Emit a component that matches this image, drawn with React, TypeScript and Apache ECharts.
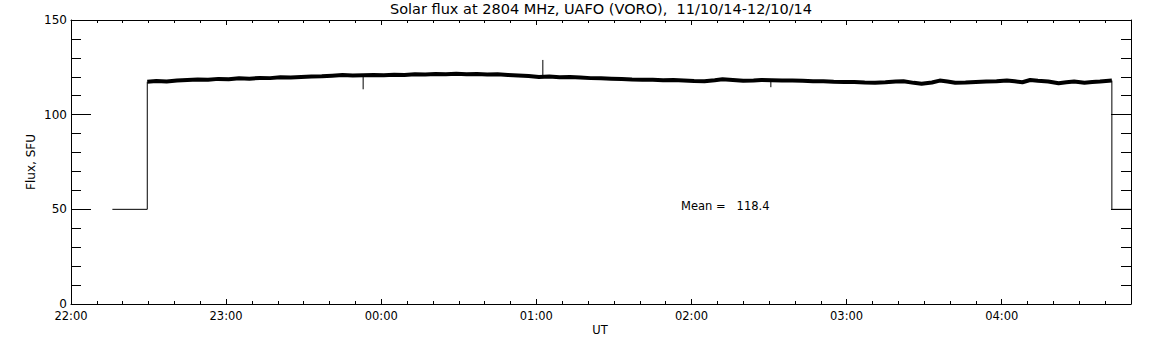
import React, { useEffect, useRef } from "react";
import * as echarts from "echarts";

// minutes after 22:00 UT
const bandTimes = [
  29.5, 33, 37, 41, 45, 49, 53, 57, 61, 65, 69, 73, 77, 81, 85, 89, 93, 97, 101, 105,
  109, 113, 117, 121, 125, 129, 133, 137, 141, 145, 149, 153, 157, 161, 165, 169, 173, 177, 181, 185,
  189, 193, 197, 201, 205, 209, 213, 217, 221, 225, 229, 233, 237, 241, 245, 249, 252, 256, 260, 264,
  267, 271, 275, 279, 283, 287, 291, 295, 299, 303, 307, 311, 315, 319, 322, 326, 329, 333, 336, 339,
  342, 346, 350, 354, 358, 362, 365, 368, 371, 374, 378, 382, 385, 388, 392, 395, 398, 402.6,
];
const bandFlux = [
  117.4, 117.8, 117.5, 118.0, 118.3, 118.6, 118.4, 118.9, 118.7, 119.2, 119.0, 119.4, 119.3, 119.8, 119.6, 119.9, 120.1, 120.3, 120.6, 120.9,
  120.7, 120.8, 120.9, 120.8, 121.1, 121.0, 121.3, 121.2, 121.5, 121.4, 121.6, 121.3, 121.5, 121.2, 121.3, 121.0, 120.7, 120.4, 119.9, 120.2,
  119.8, 119.9, 119.6, 119.3, 119.2, 119.0, 118.8, 118.6, 118.5, 118.4, 118.2, 118.3, 118.1, 117.8, 117.6, 118.2, 118.7, 118.3, 117.9, 118.1,
  118.3, 118.2, 118.0, 118.0, 117.9, 117.7, 117.6, 117.4, 117.3, 117.2, 117.0, 116.9, 117.1, 117.5, 117.6, 116.8, 116.3, 117.0, 118.0, 117.5,
  116.9, 117.0, 117.3, 117.5, 117.6, 118.0, 117.6, 117.1, 118.3, 117.9, 117.5, 116.6, 117.1, 117.5, 116.9, 117.2, 117.5, 118.0,
];

const startTimes = [16, 29.5, 29.5];
const startFlux = [50, 50, 117.4];
const endTimes = [402.6, 402.6, 410];
const endFlux = [118.0, 50, 50];

const spikeTimes = [113, 182.5, 270.7];
const spikeBase = [120.8, 119.9, 118.2];
const spikeTip = [113.4, 128.9, 114.5];

const xMin = 0;
const xMax = 410;
const yMin = 0;
const yMax = 150;
const startHour = 22;

const titleText = "Solar flux at 2804 MHz, UAFO (VORO),  11/10/14-12/10/14";
const xName = "UT";
const yName = "Flux, SFU";
const meanText = "Mean =   118.4";

const FONT = "DejaVu Sans";

function fmtTime(v: number): string {
  if (Math.abs(v % 60) > 1e-6) return "";
  const h = (startHour + Math.round(v / 60)) % 24;
  return (h < 10 ? "0" : "") + h + ":00";
}

function pairs(xs: number[], ys: number[]) {
  return xs.map((x, i) => [x, ys[i]]);
}

export default function App() {
  const ref = useRef<HTMLDivElement>(null);
  useEffect(() => {
    if (!ref.current) return;
    const chart = echarts.init(ref.current, undefined, { renderer: "svg" });
    const black = "#000";
    const xAxisBase = (position: "top" | "bottom", interval: number, len: number, labels: boolean, line: boolean) => ({
      type: "value",
      position,
      min: xMin,
      max: xMax,
      interval,
      axisLine: { show: line, onZero: false, lineStyle: { color: black, width: 1 } },
      axisTick: { show: true, inside: true, length: len, lineStyle: { color: black, width: 1 } },
      axisLabel: {
        show: labels,
        formatter: fmtTime,
        color: black,
        fontFamily: FONT,
        fontSize: 11.5,
        margin: 6,
        showMinLabel: true,
        showMaxLabel: false,
      },
      splitLine: { show: false },
    });
    const yAxisBase = (position: "left" | "right", labels: boolean) => ({
      type: "value",
      position,
      min: yMin,
      max: yMax,
      interval: 50,
      axisLine: { show: true, onZero: false, lineStyle: { color: black, width: 1 } },
      axisTick: { show: true, inside: true, length: 20, lineStyle: { color: black, width: 1 } },
      minorTick: { show: true, splitNumber: 5, length: 10, lineStyle: { color: black, width: 1 } },
      axisLabel: { show: labels, color: black, fontFamily: FONT, fontSize: 12, margin: 4 },
      splitLine: { show: false },
      minorSplitLine: { show: false },
    });
    const thin = (name: string, data: number[][]) => ({
      type: "line",
      name,
      data,
      xAxisIndex: 0,
      yAxisIndex: 0,
      showSymbol: false,
      symbol: "none",
      lineStyle: { color: black, width: 1 },
      silent: true,
    });
    const spikes = spikeTimes.map((t, i) =>
      thin("spike" + i, [
        [t, spikeBase[i]],
        [t, spikeTip[i]],
      ])
    );
    chart.setOption({
      animation: false,
      backgroundColor: "#fff",
      grid: { left: 71, right: 21, top: 20, bottom: 41, containLabel: false, outerBoundsMode: "none" },
      xAxis: [
        xAxisBase("bottom", 60, 5, true, true),
        xAxisBase("bottom", 10, 3, false, false),
        xAxisBase("top", 60, 5, false, true),
        xAxisBase("top", 10, 3, false, false),
      ],
      yAxis: [yAxisBase("left", true), yAxisBase("right", false)],
      series: [
        {
          type: "line",
          name: "flux",
          data: pairs(bandTimes, bandFlux),
          xAxisIndex: 0,
          yAxisIndex: 0,
          showSymbol: false,
          symbol: "none",
          lineStyle: { color: black, width: 4 },
          silent: true,
        },
        thin("start", pairs(startTimes, startFlux)),
        thin("end", pairs(endTimes, endFlux)),
        ...spikes,
      ],
      graphic: [
        {
          type: "text",
          x: 601,
          y: 9,
          style: { text: titleText, fill: black, font: `14.5px "${FONT}"`, align: "center", verticalAlign: "middle" },
        },
        {
          type: "text",
          x: 600,
          y: 330,
          style: { text: xName, fill: black, font: `11.5px "${FONT}"`, align: "center", verticalAlign: "middle" },
        },
        {
          type: "text",
          x: 31,
          y: 162,
          rotation: Math.PI / 2,
          style: { text: yName, fill: black, font: `12px "${FONT}"`, align: "center", verticalAlign: "middle" },
        },
        {
          type: "text",
          x: 681,
          y: 206,
          style: { text: meanText, fill: black, font: `11.5px "${FONT}"`, align: "left", verticalAlign: "middle" },
        },
      ],
    });
    return () => chart.dispose();
  }, []);
  return (
    <div
      ref={ref}
      style={{ position: "absolute", left: 0, top: 0, width: 1152, height: 345, background: "#fff" }}
    />
  );
}
